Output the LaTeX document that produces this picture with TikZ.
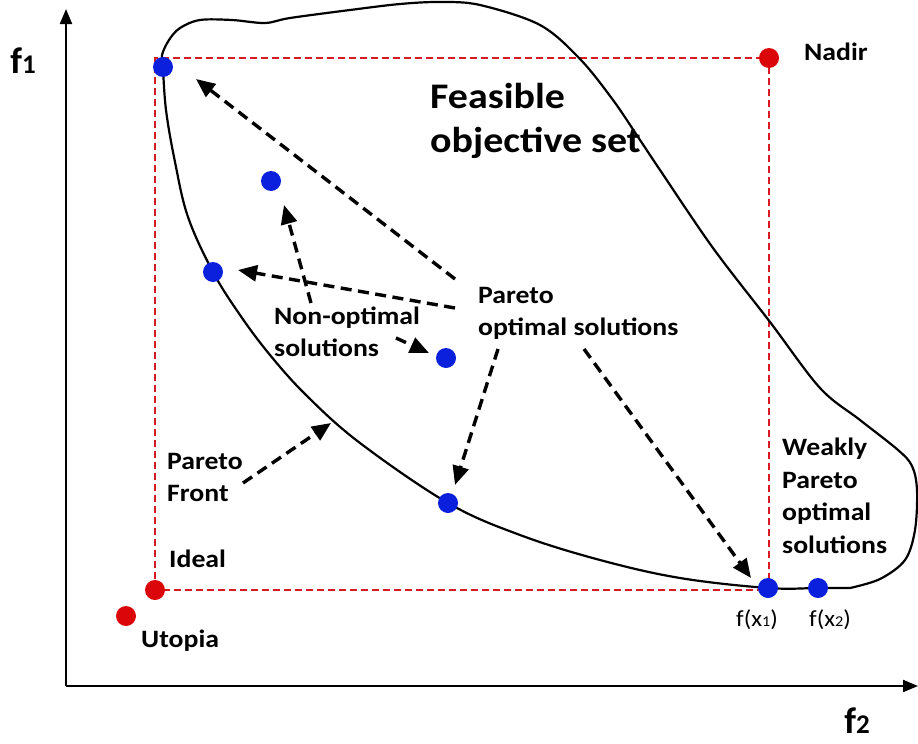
\documentclass[tikz,border=0pt]{standalone}
\usepackage{fontspec}
\setmainfont{Carlito}
\usetikzlibrary{arrows.meta,backgrounds}
\definecolor{dotred}{RGB}{218,6,10}
\definecolor{boxred}{RGB}{212,28,34}
\definecolor{dotblue}{RGB}{10,32,220}
% slightly widened, left-aligned text block
\newcommand{\widetext}[1]{\scalebox{1.11}[1]{\begin{tabular}{@{}l@{}}#1\end{tabular}}}
\newcommand{\sm}[1]{{\fontsize{15}{15}\selectfont #1}}

\begin{document}
\begin{tikzpicture}[x=1pt,y=-1pt,
  dotB/.style={circle,fill=dotblue,minimum size=20pt,inner sep=0pt},
  dotR/.style={circle,fill=dotred,minimum size=20pt,inner sep=0pt},
  lbl/.style={font=\bfseries\fontsize{25}{32.5}\selectfont,anchor=west,inner sep=0pt},
  axlbl/.style={font=\bfseries\fontsize{37}{37}\selectfont,inner sep=0pt},
  ptlbl/.style={font=\fontsize{23}{23}\selectfont,inner sep=0pt},
  ptr/.style={-{Triangle[length=19pt,width=16pt]},line width=3.4pt,dash pattern=on 11pt off 6.5pt},
  bound/.style={boxred,line width=1.8pt,dash pattern=on 7pt off 4pt},
  axisline/.style={-{Triangle[length=15pt,width=12pt]},line width=2pt},
  outline/.style={line width=2.2pt,line join=round}]
\useasboundingbox (0,0) rectangle (918,744);

% axes
\coordinate (O) at (66,686);
\coordinate (ytop) at (66,9);
\coordinate (xend) at (918,686);
\draw[axisline] (O) -- (ytop);
\draw[axisline] (O) -- (xend);
\node[axlbl] (f1) at (23,61) {f{\fontsize{27}{27}\selectfont 1}};
\node[axlbl] (f2) at (857,721) {f{\fontsize{27}{27}\selectfont 2}};

% points
\node[dotR] (nadir) at (769,58) {};
\node[dotR] (ideal) at (155,590) {};
\node[dotR] (utopia) at (126,616) {};
\node[dotB] (p1) at (163,67) {};
\node[dotB] (n1) at (271,181) {};
\node[dotB] (p2) at (213,272) {};
\node[dotB] (n2) at (446,358) {};
\node[dotB] (p3) at (448,503) {};
\node[dotB] (x1) at (768,588) {};
\node[dotB] (x2) at (818,588) {};

\begin{scope}[on background layer]
  % bounding box between ideal and nadir
  \draw[bound] (ideal.center) -- (ideal.center |- nadir.center) -- (nadir.center)
     -- (nadir.center |- ideal.center) -- cycle;
  % Pareto front
  \draw[outline] plot[smooth,tension=0.6] coordinates {
    (163,67) (166,110) (175,162) (188,217) (213,272) (240,315) (270,355)
    (307,396) (360,443) (448,503) (520,535) (600,560) (680,578) (768,588)
    (818,588) (850,588)};
  % rest of the feasible set
  \draw[outline] plot[smooth,tension=0.55] coordinates {
    (850,588) (880,579) (905,560) (915,530) (917,490) (912,466) (898,450)
    (860,420) (820,388) (770,322) (713,248) (660,170) (640,140) (613,100)
    (580,59) (540,25) (480,5) (440,2) (400,4) (350,10) (290,18) (265,23)
    (232,20) (200,20) (180,28) (169,40) (162,55) (163,67)};
\end{scope}

% labels
\node[lbl,font=\bfseries\fontsize{36}{44}\selectfont] (fos) at (430,122) {\widetext{Feasible\\objective set}};
\node[lbl] (pos) at (478,313) {\widetext{Pareto\\optimal solutions}};
\node[lbl] (nos) at (274,334) {\widetext{Non-optimal\\solutions}};
\node[lbl] (pf) at (167,479) {\widetext{Pareto\\Front}};
\node[lbl] (wpo) at (782,498) {\widetext{Weakly\\Pareto\\optimal\\solutions}};
\node[lbl] (nadirlbl) at (804,54) {\widetext{Nadir}};
\node[lbl] (ideallbl) at (169,561) {\widetext{Ideal}};
\node[lbl] (utopialbl) at (141,641) {\widetext{Utopia}};
\node[ptlbl] (fx1) at (757,620) {\scalebox{1.08}[1]{f(x\sm{1})}};
\node[ptlbl] (fx2) at (830,620) {\scalebox{1.08}[1]{f(x\sm{2})}};

% arrow ends
\coordinate (t1) at (455,279);
\coordinate (h1) at (196,79);
\coordinate (t2) at (455,308);
\coordinate (h2) at (238,270);
\coordinate (t3) at (311,303);
\coordinate (h3) at (284,205);
\coordinate (t4) at (396,338);
\coordinate (h4) at (429,353);
\coordinate (t5) at (498,349);
\coordinate (h5) at (455,485);
\coordinate (t6) at (584,349);
\coordinate (h6) at (751,578);
\coordinate (t7) at (243,483);
\coordinate (h7) at (331,423);

\draw[ptr] (t1) -- (h1);
\draw[ptr] (t2) -- (h2);
\draw[ptr] (t3) -- (h3);
\draw[ptr] (t4) -- (h4);
\draw[ptr] (t5) -- (h5);
\draw[ptr] (t6) -- (h6);
\draw[ptr] (t7) -- (h7);
\end{tikzpicture}
\end{document}
